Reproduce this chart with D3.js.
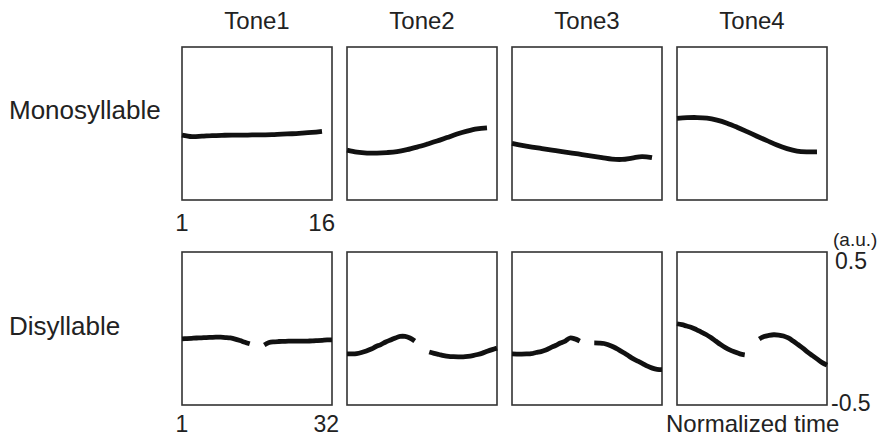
<!DOCTYPE html>
<html>
<head>
<meta charset="utf-8">
<script src="https://cdn.jsdelivr.net/npm/d3@7"></script>
<style>
  body { margin: 0; background: #fff; }
  svg { display: block; }
  text { font-family: "Liberation Sans", Arial, sans-serif; fill: #222; }
  .frame { fill: none; stroke: #333; stroke-width: 1.6; }
  .curve { fill: none; stroke: #111; stroke-width: 4.8; stroke-linejoin: round; }
</style>
</head>
<body>
<div id="chart"></div>
<script>
const tones = ['Tone1', 'Tone2', 'Tone3', 'Tone4']
const rowNames = ['Monosyllable', 'Disyllable']

// normalized time points
const monoTime = [1, 2, 3, 4, 5, 6, 7, 8, 9, 10, 11, 12, 13, 14, 15]
const diTime1 = [1, 2, 3, 4, 5, 6, 7, 8, 9, 10, 11, 12, 13, 14, 15]
const diTime2 = [18, 19, 20, 21, 22, 23, 24, 25, 26, 27, 28, 29, 30, 31, 32]

// monosyllable contours (a.u.)
const mono1 = [-0.076, -0.086, -0.083, -0.079, -0.077, -0.076, -0.076, -0.075, -0.074, -0.073, -0.069, -0.067, -0.063, -0.058, -0.051]
const mono2 = [-0.174, -0.187, -0.193, -0.193, -0.190, -0.184, -0.171, -0.154, -0.135, -0.115, -0.092, -0.069, -0.050, -0.035, -0.028]
const mono3 = [-0.130, -0.143, -0.154, -0.164, -0.174, -0.184, -0.193, -0.203, -0.213, -0.223, -0.233, -0.235, -0.226, -0.216, -0.223]
const mono4 = [0.033, 0.038, 0.039, 0.035, 0.022, 0.002, -0.024, -0.053, -0.083, -0.112, -0.141, -0.164, -0.180, -0.185, -0.185]

// disyllable contours, first and second syllable (a.u.)
const di1a = [-0.068, -0.066, -0.064, -0.062, -0.061, -0.059, -0.058, -0.057, -0.057, -0.059, -0.062, -0.069, -0.079, -0.090, -0.100]
const di1b = [-0.108, -0.092, -0.087, -0.085, -0.084, -0.083, -0.083, -0.083, -0.083, -0.082, -0.081, -0.079, -0.077, -0.075, -0.074]
const di2a = [-0.166, -0.166, -0.164, -0.157, -0.147, -0.134, -0.118, -0.105, -0.088, -0.075, -0.062, -0.052, -0.052, -0.062, -0.082]
const di2b = [-0.154, -0.163, -0.170, -0.177, -0.182, -0.184, -0.185, -0.185, -0.182, -0.177, -0.170, -0.161, -0.149, -0.138, -0.128]
const di3a = [-0.166, -0.167, -0.167, -0.166, -0.164, -0.157, -0.151, -0.141, -0.125, -0.111, -0.095, -0.082, -0.062, -0.068, -0.082]
const di3b = [-0.094, -0.095, -0.098, -0.108, -0.121, -0.138, -0.157, -0.177, -0.197, -0.213, -0.229, -0.246, -0.259, -0.267, -0.269]
const di4a = [0.031, 0.025, 0.016, 0.007, -0.007, -0.023, -0.039, -0.059, -0.082, -0.105, -0.125, -0.141, -0.154, -0.166, -0.172]
const di4b = [-0.069, -0.052, -0.045, -0.041, -0.043, -0.049, -0.062, -0.082, -0.105, -0.128, -0.154, -0.177, -0.200, -0.223, -0.239]

const xTicksMono = ['1', '16']
const xTicksDi = ['1', '32']
const yTicks = ['0.5', '-0.5']

const width = 883, height = 438
const panelW = 150, panelH = 153, gap = 15
const left = 182
const rowTop = [47, 252]

const svg = d3.select('#chart').append('svg')
  .attr('width', width)
  .attr('height', height)

const yScale = d3.scaleLinear().domain([-0.5, 0.5]).range([panelH, 0])
const xMono = d3.scaleLinear().domain([1, 16]).range([0, panelW])
const xDi = d3.scaleLinear().domain([1, 32]).range([0, panelW])

const monoSeries = [mono1, mono2, mono3, mono4]
const diSeries = [[di1a, di1b], [di2a, di2b], [di3a, di3b], [di4a, di4b]]

function segments(row, i) {
  if (row === 0) {
    return [monoTime.map((t, k) => ({ t: t, v: monoSeries[i][k] }))]
  }
  return [
    diTime1.map((t, k) => ({ t: t, v: diSeries[i][0][k] })),
    diTime2.map((t, k) => ({ t: t, v: diSeries[i][1][k] }))
  ]
}

// column titles
svg.append('g').selectAll('text')
  .data(tones)
  .enter()
  .append('text')
  .attr('x', (d, i) => left + i * (panelW + gap) + panelW / 2)
  .attr('y', 29)
  .attr('text-anchor', 'middle')
  .attr('font-size', 24)
  .text(d => d)

// row labels
svg.append('g').selectAll('text')
  .data(rowNames)
  .enter()
  .append('text')
  .attr('x', 9)
  .attr('y', (d, i) => i === 0 ? 119 : 335)
  .attr('font-size', 26)
  .text(d => d)

rowNames.forEach((rowName, row) => {
  const xs = row === 0 ? xMono : xDi
  const line = d3.line()
    .x(d => xs(d.t))
    .y(d => yScale(d.v))
    .curve(d3.curveCatmullRom)

  tones.forEach((tone, i) => {
    const g = svg.append('g')
      .attr('transform', `translate(${left + i * (panelW + gap)},${rowTop[row]})`)

    g.append('rect')
      .attr('class', 'frame')
      .attr('width', panelW)
      .attr('height', panelH)

    g.selectAll('path.curve')
      .data(segments(row, i))
      .enter()
      .append('path')
      .attr('class', 'curve')
      .attr('d', line)
  })
})

// x tick labels under first column
const xTickG = svg.append('g')
xTickG.append('text')
  .attr('x', left + xMono(1))
  .attr('y', 231)
  .attr('text-anchor', 'middle')
  .attr('font-size', 24)
  .text(xTicksMono[0])
xTickG.append('text')
  .attr('x', left + xMono(16) + 3)
  .attr('y', 231)
  .attr('text-anchor', 'end')
  .attr('font-size', 24)
  .text(xTicksMono[1])
xTickG.append('text')
  .attr('x', left + xDi(1))
  .attr('y', 432)
  .attr('text-anchor', 'middle')
  .attr('font-size', 23)
  .text(xTicksDi[0])
xTickG.append('text')
  .attr('x', left + xDi(32) + 7)
  .attr('y', 432)
  .attr('text-anchor', 'end')
  .attr('font-size', 23)
  .text(xTicksDi[1])

// y scale labels at right of last panel
const yx = left + 3 * (panelW + gap) + panelW
svg.append('text')
  .attr('x', yx + 6)
  .attr('y', 246)
  .attr('font-size', 19)
  .text('(a.u.)')
svg.append('text')
  .attr('x', yx + 8)
  .attr('y', rowTop[1] + yScale(0.5) + 17)
  .attr('font-size', 23)
  .text(yTicks[0])
svg.append('text')
  .attr('x', yx + 4)
  .attr('y', rowTop[1] + yScale(-0.5) + 6)
  .attr('font-size', 23)
  .text(yTicks[1])
svg.append('text')
  .attr('x', 666)
  .attr('y', 432)
  .attr('font-size', 24)
  .text('Normalized time')
</script>
</body>
</html>
